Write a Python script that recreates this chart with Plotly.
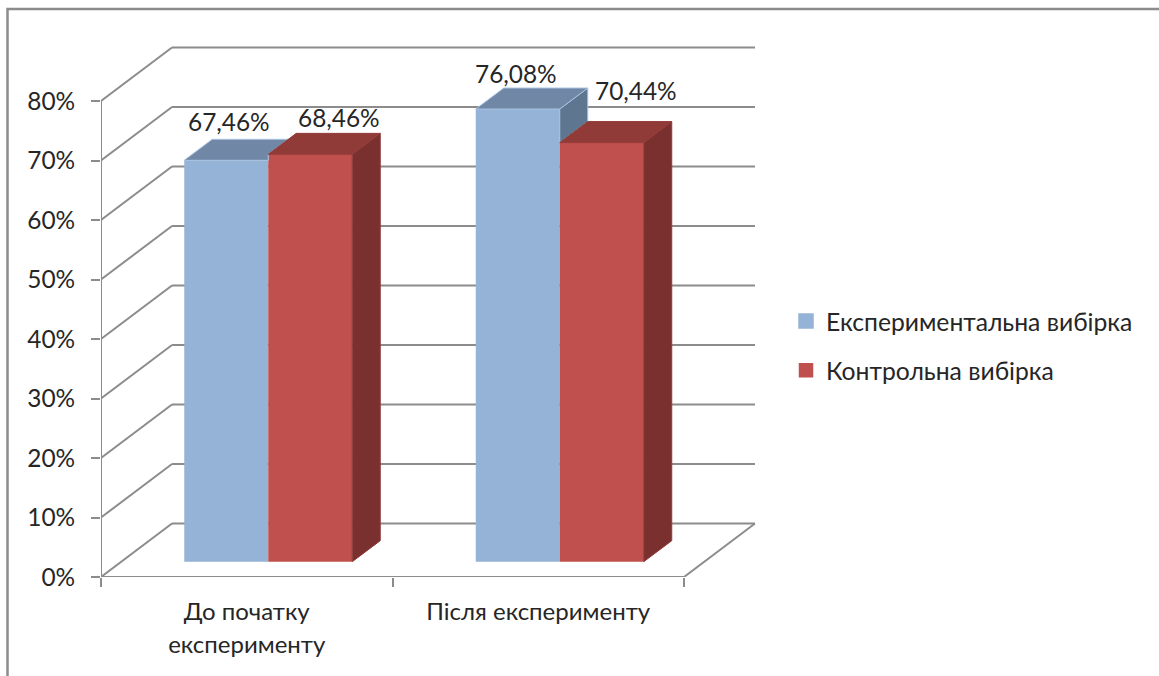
import plotly.graph_objects as go

categories = ["До початку експерименту", "Після експерименту"]
category_labels = ["До початку<br>експерименту", "Після експерименту"]
series_names = ["Експериментальна вибірка", "Контрольна вибірка"]
experimental = [67.46, 76.08]
control = [68.46, 70.44]
value_labels = [["67,46%", "76,08%"], ["68,46%", "70,44%"]]
y_ticks = [0, 10, 20, 30, 40, 50, 60, 70, 80]

W, H = 1159, 676
L, R, T, B = 101, 389, 40, 99
PX_X = 291.5            # pixels per category
PX_Y = 5.95             # pixels per percent
FONT = "Lato"
FS = 24.4
TXT = "#262626"
GRID = "#8c8c8c"

wall_dx, wall_dy = 71 / PX_X, 53.5 / PX_Y     # oblique depth of the walls
bar_off_x, bar_off_y = 21.5 / PX_X, 15.3 / PX_Y  # bars stand inside the floor
bar_dx, bar_dy = 28 / PX_X, 21 / PX_Y          # oblique depth of a bar
bar_w = 84 / PX_X

FRONT = ["#95B3D7", "#C0504D"]
TOP = ["#7087A6", "#913B39"]
SIDE = ["#5F7690", "#7A302E"]
EDGE = ["#A9C3E3", "#913B39"]

# label placement relative to the top of the bar's front face (pixels)
label_shift = [[(3, 39), (-2, 36)], [(29, 37), (34, 52)]]

series = [experimental, control]
x_range = [0, (W - L - R) / PX_X]
y_range = [0, (H - T - B) / PX_Y]

fig = go.Figure()

# front faces
for s, vals in enumerate(series):
    xs = [i + 0.5 + bar_off_x + (s - 0.5) * bar_w for i in range(len(vals))]
    fig.add_bar(
        x=xs, y=vals, base=[bar_off_y] * len(vals), width=bar_w,
        name=series_names[s], legendgroup=series_names[s], showlegend=False,
        marker=dict(color=FRONT[s], line=dict(width=0)),
        hoverinfo="skip",
    )

# legend entries, with a larger swatch
for s in range(len(series)):
    fig.add_bar(
        x=[None], y=[None], name=series_names[s], legendgroup=series_names[s],
        marker=dict(color=FRONT[s], line=dict(color=FRONT[s], width=3.5 - s)),
        hoverinfo="skip",
    )

# top and side faces, from the values
for s, vals in enumerate(series):
    top_x, top_y, side_x, side_y = [], [], [], []
    for i, v in enumerate(vals):
        x0 = i + 0.5 + bar_off_x + (s - 0.5 - 0.5) * bar_w
        x1 = x0 + bar_w
        vt = v + bar_off_y
        nxt = series[s + 1][i] + bar_off_y if s + 1 < len(series) else None
        if nxt is not None and nxt > vt:
            f = 1 - (nxt - vt) / bar_dy
            top_x += [x0, x1, x1, x1 + bar_dx * f, x0 + bar_dx, x0, None]
            top_y += [vt, vt, nxt, vt + bar_dy, vt + bar_dy, vt, None]
        else:
            top_x += [x0, x1, x1 + bar_dx, x0 + bar_dx, x0, None]
            top_y += [vt, vt, vt + bar_dy, vt + bar_dy, vt, None]
            low = nxt if nxt is not None else bar_off_y
            side_x += [x1, x1, x1 + bar_dx, x1 + bar_dx, x1, None]
            side_y += [low, vt, vt + bar_dy, low + bar_dy, low, None]
    for px, py, col in ((side_x, side_y, SIDE[s]), (top_x, top_y, TOP[s])):
        fig.add_scatter(
            x=px, y=py, mode="lines", fill="toself", fillcolor=col,
            line=dict(color=EDGE[s], width=1), hoverinfo="skip",
            showlegend=False,
        )

# left wall, axis lines and floor
frame_x, frame_y = [], []
for t in y_ticks:
    frame_x += [0, wall_dx, None]
    frame_y += [t, t + wall_dy, None]
n = len(categories)
frame_x += [0, 0, None, 0, n, n + wall_dx, None]
frame_y += [y_ticks[0], y_ticks[-1], None, 0, 0, wall_dy, None]
fig.add_scatter(
    x=frame_x, y=frame_y, mode="lines", cliponaxis=False,
    line=dict(color=GRID, width=2), hoverinfo="skip", showlegend=False,
)

# back wall grid, behind the bars
shapes = [
    dict(type="line", xref="x", yref="y", layer="below",
         x0=wall_dx, x1=n + wall_dx, y0=t + wall_dy, y1=t + wall_dy,
         line=dict(color=GRID, width=2))
    for t in y_ticks
]
# outer frame of the picture (right and bottom run off the page)
pw, ph = W - L - R, H - T - B
shapes.append(dict(
    type="rect", xref="paper", yref="paper", layer="below",
    x0=(7.5 - L) / pw, x1=(W + 20 - L) / pw,
    y0=(H - B - H - 20) / ph, y1=(H - B - 9) / ph,
    line=dict(color="#8c8c8c", width=2.5), fillcolor="rgba(0,0,0,0)",
))

# value labels
annotations = []
for s, vals in enumerate(series):
    for i, v in enumerate(vals):
        dx, dy = label_shift[s][i]
        annotations.append(dict(
            x=i + 0.5 + bar_off_x + (s - 0.5) * bar_w, y=v + bar_off_y,
            text=value_labels[s][i], showarrow=False,
            xanchor="center", yanchor="middle", xshift=dx, yshift=dy,
            font=dict(family=FONT, size=FS, color=TXT),
        ))

LEG_FS = 24.7
TICK_FS = 24
spaced = [f'<span style="font-size:{TICK_FS}px">' + c.replace("<br>", f'</span><br><span style="font-size:{TICK_FS}px">') + "</span>"
          for c in category_labels]

fig.update_layout(
    width=W, height=H, autosize=False,
    margin=dict(l=L, r=R, t=T, b=B, pad=0),
    paper_bgcolor="white", plot_bgcolor="rgba(0,0,0,0)",
    barmode="overlay", shapes=shapes, annotations=annotations,
    font=dict(family=FONT, size=FS, color=TXT),
    legend=dict(
        x=(786 - L) / pw, xanchor="left", y=(H - B - 346) / ph, yanchor="middle",
        traceorder="grouped", tracegroupgap=14, font=dict(family=FONT, size=LEG_FS, color=TXT),
        bgcolor="rgba(0,0,0,0)", borderwidth=0,
    ),
    xaxis=dict(
        range=x_range, showgrid=False, zeroline=False, showline=False,
        tickmode="array", tickvals=[i + 0.5 for i in range(n)], ticktext=spaced,
        ticks="", tickangle=0, tickfont=dict(family=FONT, size=25, color=TXT),
        ticklabelstandoff=17,
        minor=dict(tickmode="array", tickvals=list(range(n + 1)), ticks="outside",
                   ticklen=9, tickwidth=2, tickcolor=GRID, showgrid=False),
    ),
    yaxis=dict(
        range=y_range, showgrid=False, zeroline=False, showline=False,
        tickmode="array", tickvals=y_ticks, ticktext=[f"{t}%" for t in y_ticks],
        ticks="outside", ticklen=9, tickwidth=2, tickcolor=GRID,
        ticklabelstandoff=11, tickfont=dict(family=FONT, size=FS, color=TXT),
    ),
)

fig.write_html("out.html", config={"displayModeBar": False},
               post_script="document.body.style.margin='0';document.body.style.overflow='hidden';")
